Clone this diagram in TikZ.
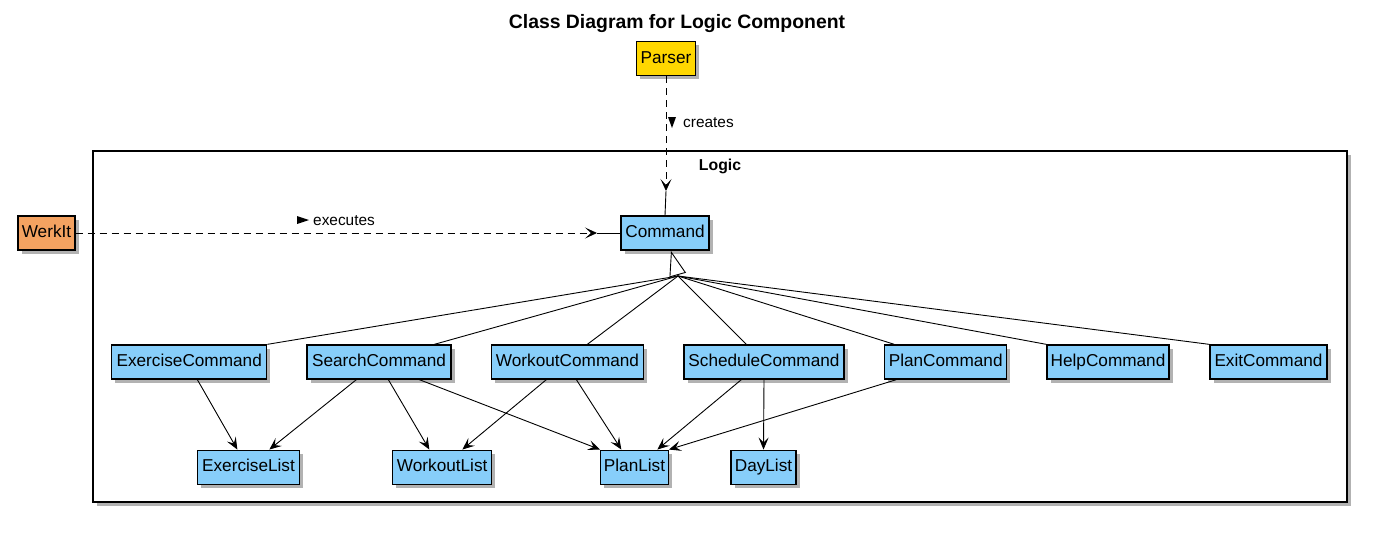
\documentclass[tikz,border=0pt]{standalone}
\usepackage{fontspec}
\setmainfont{Liberation Sans}
\usetikzlibrary{arrows.meta,shadows,calc}
\definecolor{cblue}{RGB}{135,206,250}
\definecolor{cgold}{RGB}{255,215,0}
\definecolor{corange}{RGB}{244,162,97}
\tikzset{
  cls/.style={draw=black, line width=1.3pt, fill=cblue, inner sep=0pt,
    minimum height=34pt, text height=0.9em, text depth=0pt,
    font=\fontsize{17.2}{20}\selectfont,
    drop shadow={shadow xshift=3.5pt, shadow yshift=-3.5pt, opacity=0.3, fill=black}},
  pkg/.style={draw=black, line width=1.6pt, fill=white, inner sep=0pt,
    drop shadow={shadow xshift=3.5pt, shadow yshift=-3.5pt, opacity=0.3, fill=black}},
  dep/.style={line width=0.9pt, -{Stealth[length=12pt,width=10pt,inset=5pt]}},
  gen/.style={line width=0.9pt},
  dashline/.style={line width=0.9pt, dash pattern=on 7pt off 5pt},
  lbl/.style={font=\fontsize{15.4}{18}\selectfont, inner sep=0pt},
}
\begin{document}
\begin{tikzpicture}[x=1pt,y=-1pt]
\useasboundingbox[fill=white] (0,0) rectangle (1384,541);

% title
\node[anchor=base, inner sep=0pt, font=\bfseries\fontsize{19.4}{22}\selectfont] (title) at (677,28.3) {Class Diagram for Logic Component};

% package
\node[pkg, minimum width=1254pt, minimum height=351pt] (logic) at (720,326.5) {};
\node[anchor=base, inner sep=0pt, font=\bfseries\fontsize{15.8}{18}\selectfont] (logiclbl) at (720,170.5) {Logic};

% outside nodes
\node[cls, fill=cgold, minimum width=59pt] (parser) at (666,58.5) {Parser};
\node[cls, fill=corange, minimum width=57pt] (werkit) at (46.5,233) {WerkIt};

% command
\node[cls, minimum width=88pt] (command) at (665,233) {Command};

% command row
\node[cls, minimum width=155pt] (ec) at (189.2,362) {ExerciseCommand};
\node[cls, minimum width=144pt] (sc) at (379,362) {SearchCommand};
\node[cls, minimum width=151.6pt] (wc) at (567.5,362) {WorkoutCommand};
\node[cls, minimum width=160pt] (schc) at (764,362) {ScheduleCommand};
\node[cls, minimum width=122pt] (pc) at (945.7,362) {PlanCommand};
\node[cls, minimum width=122pt] (hc) at (1108,362) {HelpCommand};
\node[cls, minimum width=117pt] (xc) at (1268.5,362) {ExitCommand};

% list row
\node[cls, minimum width=101.6pt] (el) at (248.5,467.2) {ExerciseList};
\node[cls, minimum width=99pt] (wl) at (442.2,467.2) {WorkoutList};
\node[cls, minimum width=67.6pt] (pl) at (634.5,467.2) {PlanList};
\node[cls, minimum width=65pt] (dl) at (763.5,467.2) {DayList};

% creates
\coordinate (ctop) at (666,191);
\draw[dashline, -{Stealth[length=12pt,width=11pt,inset=6pt]}] (parser.south) -- (ctop);
\draw[line width=0.9pt] (ctop) -- (command.north);
\fill (668,117) -- (676,117) -- (672,128) -- cycle;
\node[lbl, anchor=base west] (createslbl) at (683,127.7) {creates};

% executes
\coordinate (cleft) at (597,233);
\draw[dashline, -{Stealth[length=12pt,width=11pt,inset=6pt]}] (werkit.east) -- (cleft);
\draw[line width=0.9pt] (cleft) -- (command.west);
\fill (297,216) -- (297,224) -- (309,220) -- cycle;
\node[lbl, anchor=base west] (executeslbl) at (313,225.7) {executes};

% generalization
\coordinate (g) at (678,276);
\coordinate (gapex) at (671,251);
\draw[gen] (ec.north east) -- (g);
\draw[gen] ($(sc.north west)+(128,0)$) -- (g);
\draw[gen] ($(wc.north west)+(96.3,0)$) -- (g);
\draw[gen] ($(schc.north west)+(63,0)$) -- (g);
\draw[gen] ($(pc.north west)+(10.3,0)$) -- (g);
\draw[gen] (hc.north west) -- (g);
\draw[gen] (xc.north west) -- (g);
\draw[line width=0.9pt, -{Triangle[length=25pt,width=17pt,fill=white]}] (g) -- (gapex);

% dependencies
\draw[dep] ($(ec.south west)+(86.3,0)$) -- ($(el.north west)+(40.3,0)$);
\draw[dep] ($(sc.south west)+(50,0)$) -- ($(el.north west)+(72.3,0)$);
\draw[dep] ($(sc.south west)+(82,0)$) -- ($(wl.north west)+(37.3,0)$);
\draw[dep] ($(sc.south west)+(113,0)$) -- (pl.north west);
\draw[dep] ($(wc.south west)+(55.3,0)$) -- ($(wl.north west)+(70.3,0)$);
\draw[dep] ($(wc.south west)+(85.3,0)$) -- ($(pl.north west)+(21.3,0)$);
\draw[dep] ($(schc.south west)+(58,0)$) -- ($(pl.north west)+(57.3,0)$);
\draw[dep] (schc.south) -- (dl.north);
\draw[dep] ($(pc.south west)+(12.3,0)$) -- (pl.north east);
\end{tikzpicture}
\end{document}
